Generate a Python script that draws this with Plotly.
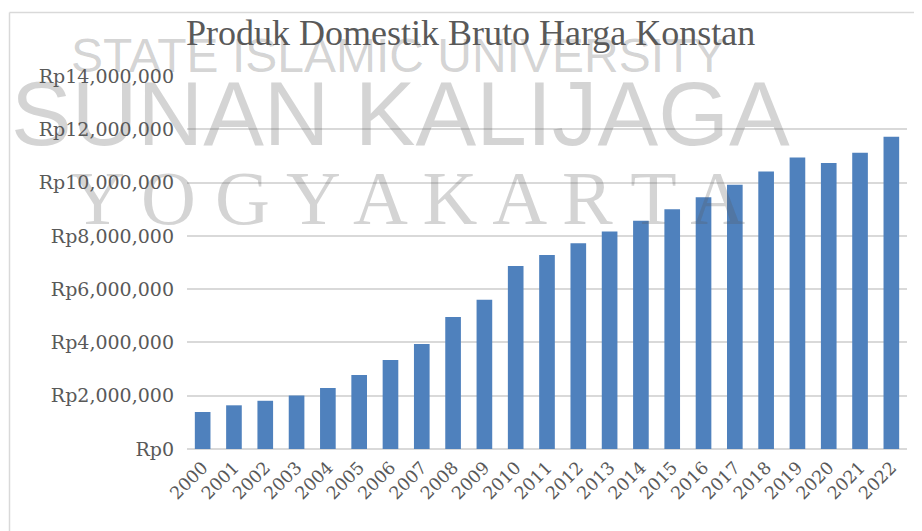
import plotly.graph_objects as go

years = [str(y) for y in range(2000, 2023)]
pdb = [1390000, 1640000, 1810000, 2010000, 2290000, 2780000, 3340000, 3940000,
       4950000, 5600000, 6870000, 7280000, 7720000, 8160000, 8570000, 9000000,
       9450000, 9920000, 10420000, 10940000, 10730000, 11120000, 11720000]
title_text = "Produk Domestik Bruto Harga Konstan"
watermark = ["STATE ISLAMIC UNIVERSITY", "SUNAN KALIJAGA", "Y O G Y A K A R T A"]

# page body has an 8px margin, so the figure is sized to fit the window
OFF = 8
W, H = 922 - OFF, 531 - OFF
L, R, T, B = 187 - OFF, 15, 76 - OFF, 81.5
pw, ph = W - L - R, H - T - B


def px(x):
    return (x - OFF - L) / pw


def py(y):
    return (H - B - (y - OFF)) / ph


grey = "#595959"
fig = go.Figure(go.Bar(x=years, y=pdb, marker=dict(color="#4F81BD", line=dict(width=0))))

fig.update_layout(
    width=W, height=H,
    margin=dict(l=L, r=R, t=T, b=B, pad=0),
    paper_bgcolor="white", plot_bgcolor="white",
    bargap=0.5,
    showlegend=False,
    font=dict(family="DejaVu Serif", color=grey),
)
fig.update_xaxes(
    type="category", tickangle=-45, automargin=False,
    tickfont=dict(size=17.5, color=grey, family="DejaVu Serif"),
    showgrid=False, showline=False, ticks="", zeroline=False,
    ticklabelstandoff=4,
)
fig.update_yaxes(
    range=[0, 14000000], dtick=2000000, tickprefix="Rp", tickformat=",d", automargin=False,
    tickfont=dict(size=19, color=grey, family="DejaVu Serif"),
    showgrid=True, gridcolor="#d9d9d9", gridwidth=1.5, zeroline=True,
    zerolinecolor="#d9d9d9", zerolinewidth=1.5, showline=False, ticks="",
    ticklabelstandoff=12,
)

# chart border (left and top edges)
fig.add_shape(type="line", xref="paper", yref="paper", x0=px(9.5), x1=px(930), y0=py(12.5), y1=py(12.5),
              line=dict(color="#d9d9d9", width=1.5))
fig.add_shape(type="line", xref="paper", yref="paper", x0=px(9.5), x1=px(9.5), y0=py(12.5), y1=py(540),
              line=dict(color="#d9d9d9", width=1.5))

wm_color = "rgba(90,90,90,0.26)"
fig.add_annotation(text=watermark[0], xref="paper", yref="paper", x=px(398), y=py(55),
                   xanchor="center", yanchor="middle", showarrow=False,
                   font=dict(family="Liberation Sans Narrow, Liberation Sans", size=48, color=wm_color))
fig.add_annotation(text=watermark[1], xref="paper", yref="paper", x=px(400), y=py(114),
                   xanchor="center", yanchor="middle", showarrow=False,
                   font=dict(family="Liberation Sans", size=91, color=wm_color))
fig.add_annotation(text=watermark[2], xref="paper", yref="paper", x=px(407), y=py(198),
                   xanchor="center", yanchor="middle", showarrow=False,
                   font=dict(family="Liberation Serif", size=76, color=wm_color))

fig.add_annotation(text=title_text, xref="paper", yref="paper", x=px(470), y=py(33),
                   xanchor="center", yanchor="middle", showarrow=False,
                   font=dict(family="Liberation Serif", size=36, color=grey))

fig.write_html("out.html")
